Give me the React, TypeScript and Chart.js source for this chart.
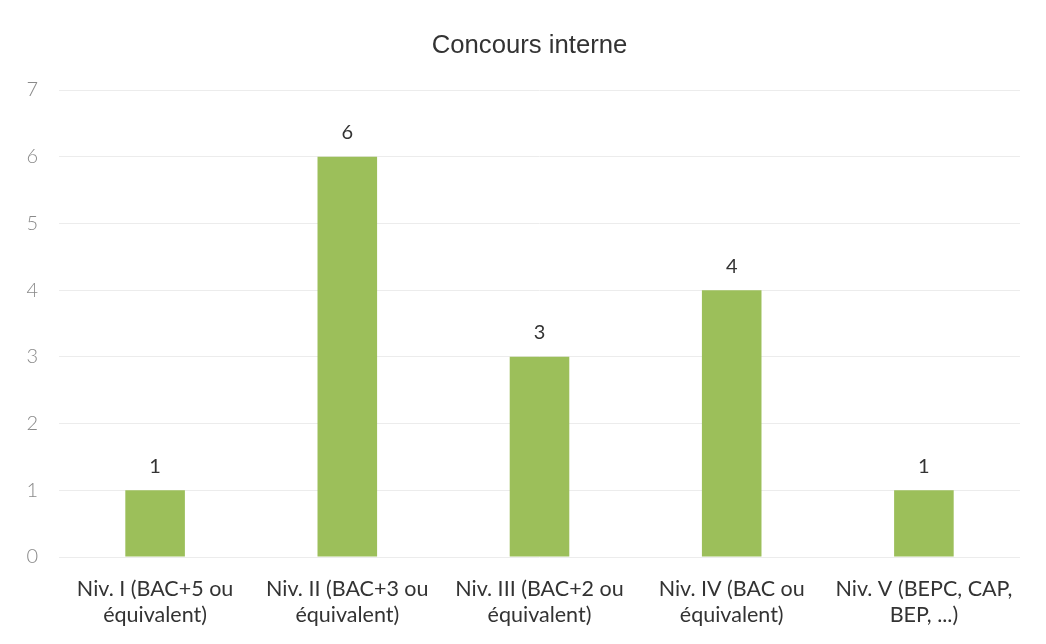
import React, { useEffect, useRef } from "react";
import { Chart, registerables } from "chart.js";

Chart.register(...registerables);

const categories: string[][] = [
  ["Niv. I (BAC+5 ou", "équivalent)"],
  ["Niv. II (BAC+3 ou", "équivalent)"],
  ["Niv. III (BAC+2 ou", "équivalent)"],
  ["Niv. IV (BAC ou", "équivalent)"],
  ["Niv. V (BEPC, CAP,", "BEP, ...)"],
];
const values: number[] = [1, 6, 3, 4, 1];
const yTicks: number[] = [0, 1, 2, 3, 4, 5, 6, 7];
const title = "Concours interne";

const valueLabels = {
  id: "valueLabels",
  afterDatasetsDraw(chart: any) {
    const ctx = chart.ctx;
    const meta = chart.getDatasetMeta(0);
    ctx.save();
    ctx.font = "20px Lato";
    ctx.fillStyle = "#333333";
    ctx.textAlign = "center";
    ctx.textBaseline = "middle";
    meta.data.forEach((bar: any, i: number) => {
      ctx.fillText(String(values[i]), bar.x, bar.y - 24);
    });
    ctx.restore();
  },
};

const chartTitle = {
  id: "chartTitle",
  afterDraw(chart: any) {
    const ctx = chart.ctx;
    const area = chart.chartArea;
    ctx.save();
    ctx.font = "25.7px 'Liberation Sans'";
    ctx.fillStyle = "#333333";
    ctx.textAlign = "center";
    ctx.textBaseline = "middle";
    ctx.fillText(title, (area.left + area.right) / 2 - 10, area.top - 44);
    ctx.restore();
  },
};

export default function App() {
  const ref = useRef<HTMLCanvasElement | null>(null);
  useEffect(() => {
    document.body.style.margin = "0";
    const canvas = ref.current!;
    const chart = new Chart(canvas, {
      type: "bar",
      data: {
        labels: categories,
        datasets: [
          {
            data: values,
            backgroundColor: "#9cbf5a",
            barPercentage: 0.31,
            categoryPercentage: 1,
          },
        ],
      },
      options: {
        animation: false,
        responsive: false,
        layout: { padding: { top: 90, right: 26, bottom: 0, left: 0 } },
        plugins: {
          legend: { display: false },
          tooltip: { enabled: false },
          title: { display: false },
        },
        scales: {
          x: {
            grid: { display: false, drawTicks: false },
            border: { display: false },
            ticks: {
              color: "#333333",
              font: { family: "Lato", size: 21.5, lineHeight: 1.21 },
              padding: 19,
              maxRotation: 0,
              autoSkip: false,
            },
            afterFit(scale: any) {
              scale.height = 87;
            },
          },
          y: {
            min: 0,
            max: 7,
            afterBuildTicks(scale: any) {
              scale.ticks = yTicks.map((v) => ({ value: v }));
            },
            grid: { color: "#ececec", drawTicks: false },
            border: { display: false },
            ticks: {
              color: "#8a8a8a",
              font: { family: "Lato", size: 20, weight: 300 },
              padding: 21,
            },
            afterFit(scale: any) {
              scale.width = 59;
            },
          },
        },
      },
      plugins: [valueLabels, chartTitle],
    });
    return () => chart.destroy();
  }, []);
  return <canvas ref={ref} width={1046} height={644} style={{ display: "block" }} />;
}
